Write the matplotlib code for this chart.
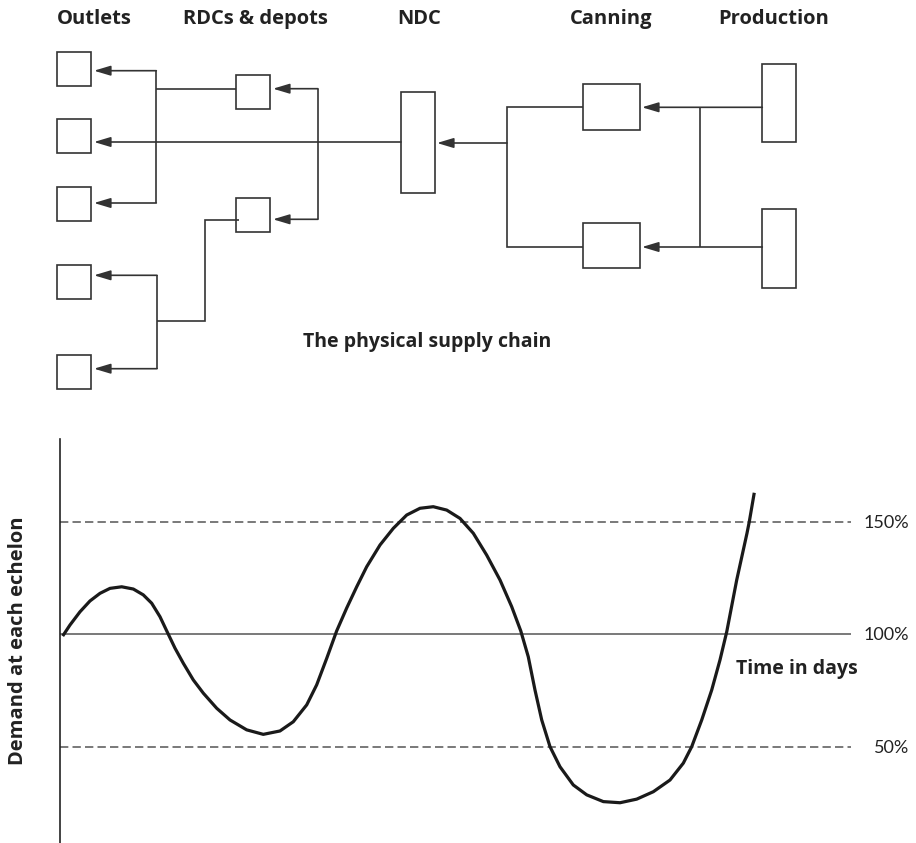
import matplotlib
matplotlib.use("Agg")
import matplotlib.pyplot as plt
from matplotlib.patches import Rectangle
from matplotlib.transforms import blended_transform_factory

plt.rcParams["lines.scale_dashes"] = False

# ---------------- data ----------------
echelons = ["Outlets", "RDCs & depots", "NDC", "Canning", "Production"]
chart_title = "The physical supply chain"
y_label = "Demand at each echelon"
x_label = "Time in days"

days = [0.34, 1.26, 2.53, 3.79, 5.06, 6.32, 7.80, 9.27, 10.53, 11.59,
        12.64, 13.49, 14.54, 15.59, 16.85, 18.12, 19.81, 21.49, 23.60, 25.70,
        27.81, 29.49, 31.19, 32.45, 33.72, 34.98, 36.25, 37.51, 38.77, 40.46,
        42.14, 43.83, 45.51, 47.19, 48.89, 50.57, 52.25, 53.94, 55.63, 57.10,
        58.25, 59.20, 60.05, 60.90, 61.95, 63.21, 64.89, 66.59, 68.69, 70.80,
        72.91, 75.01, 77.12, 78.80, 79.86, 81.13, 82.39, 83.44, 84.29, 85.55,
        86.85, 87.14, 87.77]
demand = [99.3, 104.2, 110.1, 114.9, 118.3, 120.5, 121.2, 120.2, 117.6, 113.9,
          107.9, 101.6, 93.9, 87.2, 79.8, 73.9, 67.2, 62.0, 57.6, 55.6,
          57.1, 61.2, 68.7, 77.6, 89.4, 101.6, 111.8, 121.2, 130.1, 139.8,
          147.2, 153.1, 156.1, 156.8, 155.3, 151.6, 145.0, 135.3, 124.2, 112.4,
          101.6, 90.1, 75.3, 62.0, 50.1, 41.2, 33.1, 28.7, 25.7, 25.2,
          26.8, 30.1, 35.3, 42.8, 50.1, 62.0, 75.3, 88.7, 101.2, 124.2,
          145.0, 150.1, 163.0]
levels = [150, 100, 50]
level_labels = ["150%", "100%", "50%"]

# ---------------- figure ----------------
W, H = 916, 843
fig = plt.figure(figsize=(W / 100, H / 100), dpi=100)
LC = "#333333"
TC = "#222222"
BFONT = "Open Sans"
RFONT = "Lato"

# ---- demand chart ----
ax = fig.add_axes([60 / W, 0, (851 - 60) / W, (843 - 439) / H])
ax.patch.set_visible(False)
ax.set_xlim(0, 100)
ax.set_ylim(7.3, 186.9)
for s in ["top", "right", "bottom"]:
    ax.spines[s].set_visible(False)
ax.spines["left"].set_linewidth(1.2)
ax.spines["left"].set_color("#222222")
ax.set_xticks([])
ax.set_yticks([])

for lv in levels:
    ls = "-" if lv == 100 else (0, (6, 3))
    ax.axhline(lv, color="#555555", lw=1.1, linestyle=ls, zorder=1)

ax.plot(days, demand, color="#1a1a1a", lw=2.3, solid_joinstyle="round",
        solid_capstyle="butt", zorder=3)

tr = blended_transform_factory(ax.transAxes, ax.transData)
for lv, lab in zip(levels, level_labels):
    ax.text((909 - 60) / 791, lv - 2.6, lab, transform=tr, ha="right",
            va="baseline", fontsize=13, family=RFONT, color=TC,
            clip_on=False)

ax.text((858 - 60) / 791, 100 - 17.5, x_label, transform=tr, ha="right",
        va="baseline", fontsize=14, family=BFONT, weight="bold",
        color=TC, clip_on=False)

# ---- diagram overlay (pixel layout) ----
dax = fig.add_axes([0, 0, 1, 1])
dax.patch.set_visible(False)
dax.set_xlim(0, W)
dax.set_ylim(H, 0)
dax.axis("off")

header_x = [94, 255, 419, 611, 774]
for name, hx in zip(echelons, header_x):
    dax.text(hx, 24, name, ha="center", va="baseline", fontsize=14.5,
             family=BFONT, weight="bold", color=TC)

dax.text(427, 347, chart_title, ha="center", va="baseline", fontsize=14,
         family=BFONT, weight="bold", color=TC)
dax.text(18, 641, y_label, ha="center", va="center", rotation=90,
         fontsize=14.5, family=BFONT, weight="bold", color=TC)

boxes = {
    "Outlets": [(56.7, 52.3, 34, 34), (56.7, 119.3, 34, 34), (56.7, 186.7, 34, 34),
                (56.7, 265.3, 34, 34), (56.7, 354.7, 34, 34)],
    "RDCs & depots": [(235.7, 74.7, 34.3, 34), (235.7, 198, 34.3, 33.7)],
    "NDC": [(401, 92, 34, 100.7)],
    "Canning": [(583, 84.3, 56.7, 45.4), (583, 223.3, 56.7, 44.7)],
    "Production": [(762.3, 63.7, 34, 78.6), (762.3, 209.3, 34, 78.4)],
}
for blist in boxes.values():
    for (x, y, w, h) in blist:
        dax.add_patch(Rectangle((x, y), w, h, fill=False, ec=LC, lw=1.2))


def line(xs, ys):
    dax.plot(xs, ys, color=LC, lw=1.2, solid_capstyle="butt",
             solid_joinstyle="miter")


def arrow(x0, y, x1):
    dax.annotate("", xy=(x1, y), xytext=(x0, y),
                 arrowprops=dict(arrowstyle="-|>,head_length=1.0,head_width=0.3",
                                 color=LC, lw=1.2, shrinkA=0, shrinkB=0,
                                 mutation_scale=10))


# production -> canning
arrow(762.3, 107.3, 642)
arrow(762.3, 247, 642)
line([700, 700], [107.3, 247])
# canning -> NDC
line([583, 507, 507, 583], [107.3, 107.3, 247, 247])
arrow(507, 143, 437)
# NDC -> outlet 2 (direct)
arrow(401, 142, 94)
# NDC -> RDCs
line([318, 318], [88.7, 219.3])
arrow(318, 88.7, 273)
arrow(318, 219.3, 273)
# RDC 1 -> outlets 1,3
line([235.7, 156.3], [89.3, 89.3])
line([156.3, 156.3], [70.7, 203])
arrow(156.3, 70.7, 94)
arrow(156.3, 203, 94)
# RDC 2 -> outlets 4,5
line([239, 205, 205, 157], [220, 220, 321, 321])
line([157, 157], [275.3, 368.7])
arrow(157, 275.3, 94)
arrow(157, 368.7, 94)

fig.savefig("out.png", dpi=100)
